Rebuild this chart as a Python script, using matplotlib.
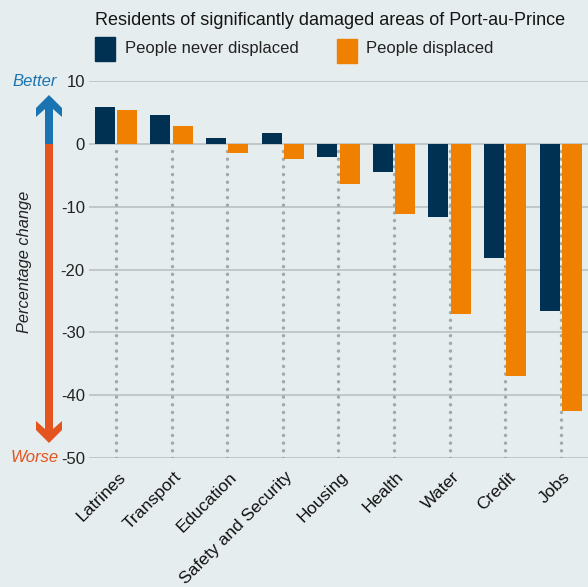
import matplotlib
matplotlib.use("Agg")
import matplotlib.pyplot as plt
from matplotlib.patches import Polygon, Rectangle
from matplotlib.transforms import ScaledTranslation
import numpy as np

categories = ["Latrines", "Transport", "Education", "Safety and Security", "Housing",
              "Health", "Water", "Credit", "Jobs"]
never_displaced = [5.9, 4.6, 1.0, 1.8, -2.0, -4.5, -11.6, -18.1, -26.6]
displaced = [5.4, 2.9, -1.4, -2.35, -6.4, -11.2, -27.1, -37.0, -42.5]
yticks = [10, 0, -10, -20, -30, -40, -50]

navy = "#003152"
orange = "#f08000"
blue = "#1a74b1"
red = "#e4541f"
bg = "#e6edef"
grid = "#b8bcbf"
font = "Liberation Sans"

W, H = 588, 587
fig = plt.figure(figsize=(W / 100, H / 100), dpi=100, facecolor=bg)
ax = fig.add_axes([89 / W, 1 - 458 / H, 1 - 89 / W, (458 - 81.4) / H])
ax.set_facecolor(bg)

x = np.arange(len(categories))
bw = 0.36
ax.vlines(x, -50, 0, colors="#a3a8ab", linestyles=(0, (0.01, 2.2)), linewidth=2.5,
          capstyle="round", zorder=1)
for yv in yticks:
    ax.axhline(yv, color=grid, lw=1.1, zorder=0)
ax.bar(x - 0.2, never_displaced, bw, color=navy, zorder=2)
ax.bar(x + 0.2, displaced, bw, color=orange, zorder=2)

ax.set_xlim(-0.486, 8.49)
ax.set_ylim(-50, 10)
for s in ax.spines.values():
    s.set_visible(False)
ax.set_yticks(yticks)
ax.set_yticklabels([str(v) for v in yticks], family=font, fontsize=12, color="#222222")
ax.set_xticks(x)
ax.set_xticklabels(categories, rotation=45, ha="right", va="top", rotation_mode="anchor",
                   family=font, fontsize=12.6, color="#111111")
ax.tick_params(length=0, pad=3)
ax.tick_params(axis="x", pad=8)
for lab in ax.get_xticklabels():
    lab.set_transform(lab.get_transform() + ScaledTranslation(0.02, 0, fig.dpi_scale_trans))

# title and legend
fig.text(95 / W, 1 - 25 / H, "Residents of significantly damaged areas of Port-au-Prince",
         family=font, fontsize=13, color="#151515", va="baseline")
fig.add_artist(Rectangle((95 / W, 1 - 61 / H), 20 / W, 24 / H, color=navy,
                         transform=fig.transFigure))
fig.add_artist(Rectangle((337 / W, 1 - 63 / H), 20 / W, 24 / H, color=orange,
                         transform=fig.transFigure))
fig.text(125 / W, 1 - 49 / H, "People never displaced", family=font, fontsize=12,
         color="#222222", va="center")
fig.text(366 / W, 1 - 49 / H, "People displaced", family=font, fontsize=12,
         color="#222222", va="center")

# better / worse arrow on the left (pixel coords from top-left)
def arrow(pts, color):
    xy = [(px / W, 1 - py / H) for px, py in pts]
    fig.add_artist(Polygon(xy, closed=True, color=color, lw=0, transform=fig.transFigure))

cx = 49
arrow([(cx, 95), (cx - 13, 108), (cx - 13, 117), (cx - 4, 109), (cx - 4, 144),
       (cx + 4, 144), (cx + 4, 109), (cx + 13, 117), (cx + 13, 108)], blue)
arrow([(cx, 443), (cx - 13, 430), (cx - 13, 421), (cx - 4, 429), (cx - 4, 144),
       (cx + 4, 144), (cx + 4, 429), (cx + 13, 421), (cx + 13, 430)], red)
fig.text(35 / W, 1 - 81 / H, "Better", family=font, style="italic", fontsize=12,
         color=blue, ha="center", va="center")
fig.text(35 / W, 1 - 458 / H, "Worse", family=font, style="italic", fontsize=12,
         color=red, ha="center", va="center")
fig.text(25 / W, 1 - 262 / H, "Percentage change", family=font, style="italic", fontsize=11.8,
         color="#222222", rotation=90, ha="center", va="center")

fig.savefig("out.png", dpi=100, facecolor=bg)
